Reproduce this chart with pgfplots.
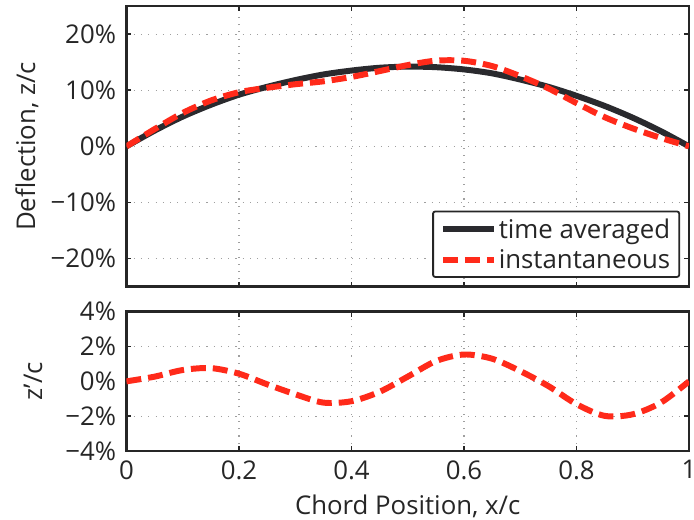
\documentclass[border=0pt]{standalone}
\usepackage{pgfplots}
\pgfplotsset{compat=1.18}
\usepackage{fontspec}
\setmainfont{Open Sans}
\definecolor{axdark}{HTML}{262626}
\definecolor{lnred}{HTML}{FF2A1A}
\definecolor{lnblack}{HTML}{2A2A2E}
\newcommand{\fs}{\fontsize{26}{30}\selectfont}

\pgfplotstableread{
x    avg    inst
0.00 0.0    0.0
0.05 2.8    3.07
0.10 5.3    5.95
0.15 7.4    8.16
0.20 9.2    9.64
0.25 10.6   10.43
0.30 11.8   11.06
0.35 12.8   11.58
0.40 13.5   12.36
0.45 14.0   13.40
0.50 14.2   14.47
0.55 14.1   15.26
0.60 13.7   15.24
0.65 13.0   14.30
0.70 11.9   12.50
0.75 10.6   10.33
0.80 9.0    7.70
0.85 7.2    5.20
0.90 5.1    3.20
0.95 2.7    1.50
1.00 0.0    0.0
}\deflection

\pgfplotstableread{
x    dz
0.00 0.0
0.05 0.27
0.10 0.65
0.15 0.76
0.20 0.44
0.25 -0.17
0.30 -0.74
0.35 -1.22
0.40 -1.14
0.45 -0.60
0.50 0.27
0.55 1.16
0.60 1.54
0.65 1.30
0.70 0.59
0.75 -0.27
0.80 -1.31
0.85 -1.98
0.90 -1.89
0.95 -1.22
1.00 0.0
}\difference

\pgfplotsset{
  mystyle/.style={
    scale only axis,
    width=565bp,
    xmin=0, xmax=1,
    xtick={0,0.2,0.4,0.6,0.8,1},
    tick pos=both,
    tick align=inside,
    major tick length=5bp,
    every tick/.style={line width=1.6bp, draw=axdark},
    axis line style={line width=2.6bp, draw=axdark},
    grid=major,
    major grid style={line width=1.1bp, draw=gray!75, dash pattern=on 1.1bp off 6.2bp},
    tick label style={font=\fs, text=axdark},
    yticklabel style={xshift=-7bp},
    xticklabel style={yshift=-6bp},
    label style={font=\fs, text=axdark},
    yticklabel pos=left,
    xticklabel pos=lower,
  }
}

\begin{document}
\begin{tikzpicture}
\path[use as bounding box] (-127bp,6bp) rectangle (570bp,-516bp);
\begin{axis}[
  mystyle,
  name=top,
  at={(0,0)}, anchor=north west,
  height=282bp,
  ymin=-25, ymax=25,
  ytick={-20,-10,0,10,20},
  yticklabels={−20\%,−10\%,0\%,10\%,20\%},
  xticklabels={},
  ylabel={Deflection, z/c},
  ylabel style={at={(axis description cs:-0.177,0.5)}, anchor=center},
  legend style={at={(1,0)}, anchor=south east, xshift=-9bp, yshift=9bp,
    font=\fs, text=axdark, draw=axdark, line width=1.8bp, rounded corners=2bp,
    inner xsep=7bp, inner ysep=5bp, row sep=6bp},
  legend cell align=left,
  legend image code/.code={\draw[#1] (0bp,0bp) -- (51bp,0bp);},
]
\addplot[lnblack, line width=6bp, smooth] table[x=x, y=avg] {\deflection};
\addlegendentry{time averaged}
\addplot[lnred, line width=6bp, dash pattern=on 15bp off 7bp, smooth] table[x=x, y=inst] {\deflection};
\addlegendentry{instantaneous}
\end{axis}

\begin{axis}[
  mystyle,
  at={(0,-307bp)}, anchor=north west,
  height=140bp,
  ymin=-4, ymax=4,
  ytick={-4,-2,0,2,4},
  yticklabels={−4\%,−2\%,0\%,2\%,4\%},
  xticklabels={0,0.2,0.4,0.6,0.8,1},
  ylabel={z’/c},
  ylabel style={at={(axis description cs:-0.166,0.5)}, anchor=center},
  xlabel={Chord Position, x/c},
  xlabel style={at={(axis description cs:0.5,-0.40)}, anchor=center},
]
\addplot[lnred, line width=6bp, dash pattern=on 15bp off 7bp, smooth] table[x=x, y=dz] {\difference};
\end{axis}
\end{tikzpicture}
\end{document}
